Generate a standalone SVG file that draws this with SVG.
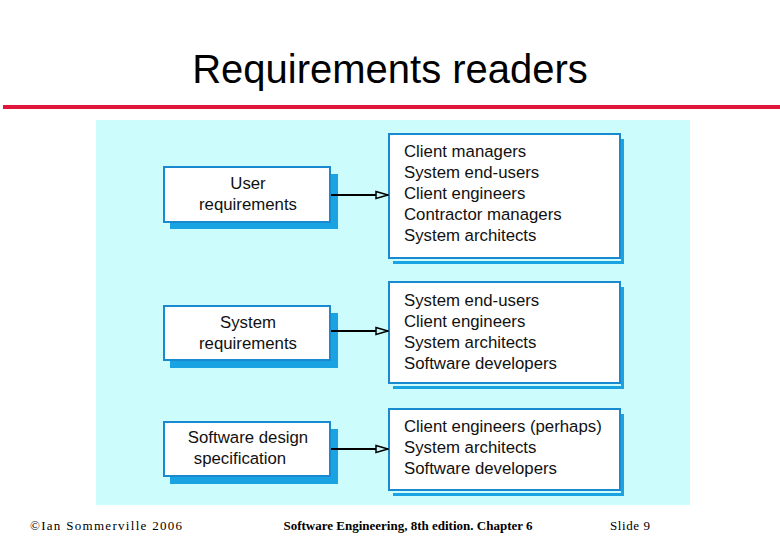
<svg xmlns="http://www.w3.org/2000/svg" width="780" height="540" viewBox="0 0 780 540">
<defs>
<style>
.title{font-family:"Liberation Sans",Arial,sans-serif;font-size:40px;fill:#000}
.t{font-family:"Liberation Sans",Arial,sans-serif;font-size:16.8px;fill:#111}
.box{fill:#fff;stroke:#1a8ad0;stroke-width:2}
.sh{fill:#1aa3e3}
.foot{font-family:"Liberation Serif","Times New Roman",serif;font-size:13px;fill:#000}
.conn{stroke:#000;stroke-width:2;fill:none}
</style>
<marker id="ah" markerWidth="14" markerHeight="10" refX="13" refY="5" orient="auto" markerUnits="userSpaceOnUse">
<path d="M1,1.5 L13,5 L1,8.5 Z" fill="#c8f8f8" stroke="#000" stroke-width="1.5"/>
</marker>
</defs>
<rect width="780" height="540" fill="#fff"/>
<text class="title" x="390" y="83" text-anchor="middle">Requirements readers</text>
<rect x="3" y="105" width="777" height="4" fill="#e0173a"/>
<rect x="96" y="120" width="594" height="385" fill="#ccfcfc"/>

<g id="user-req">
<rect class="sh" x="170" y="174" width="168" height="55"/>
<rect class="box" x="164" y="167" width="166" height="55"/>
<text class="t" x="248" y="189" text-anchor="middle">User</text>
<text class="t" x="248" y="210" text-anchor="middle">requirements</text>
</g>
<g id="sys-req">
<rect class="sh" x="170" y="313" width="168" height="55"/>
<rect class="box" x="164" y="306" width="166" height="54"/>
<text class="t" x="248" y="328" text-anchor="middle">System</text>
<text class="t" x="248" y="349" text-anchor="middle">requirements</text>
</g>
<g id="sw-design">
<rect class="sh" x="170" y="429" width="168" height="55"/>
<rect class="box" x="164" y="422" width="166" height="54"/>
<text class="t" x="248" y="443" text-anchor="middle">Software design</text>
<text class="t" x="240" y="464" text-anchor="middle">specification</text>
</g>

<g id="readers1">
<rect class="sh" x="393" y="139" width="231" height="125"/>
<rect x="391" y="137" width="230" height="124" fill="#ccfcfc"/>
<rect class="box" x="389" y="134" width="231" height="124"/>
<text class="t" x="404" y="157">Client managers</text>
<text class="t" x="404" y="178">System end-users</text>
<text class="t" x="404" y="199">Client engineers</text>
<text class="t" x="404" y="220">Contractor managers</text>
<text class="t" x="404" y="241">System architects</text>
</g>
<g id="readers2">
<rect class="sh" x="393" y="287" width="231" height="102"/>
<rect x="391" y="285" width="230" height="101" fill="#ccfcfc"/>
<rect class="box" x="389" y="282" width="231" height="101"/>
<text class="t" x="404" y="306">System end-users</text>
<text class="t" x="404" y="327">Client engineers</text>
<text class="t" x="404" y="348">System architects</text>
<text class="t" x="404" y="369">Software developers</text>
</g>
<g id="readers3">
<rect class="sh" x="393" y="414" width="231" height="82"/>
<rect x="391" y="412" width="230" height="81" fill="#ccfcfc"/>
<rect class="box" x="389" y="409" width="231" height="81"/>
<text class="t" x="404" y="432">Client engineers (perhaps)</text>
<text class="t" x="404" y="453">System architects</text>
<text class="t" x="404" y="474">Software developers</text>
</g>

<g id="connectors">
<line class="conn" x1="331" y1="195" x2="388" y2="195" marker-end="url(#ah)"/>
<line class="conn" x1="331" y1="331" x2="388" y2="331" marker-end="url(#ah)"/>
<line class="conn" x1="331" y1="449" x2="388" y2="449" marker-end="url(#ah)"/>
</g>

<text class="foot" x="30" y="530" textLength="152" lengthAdjust="spacing">©Ian Sommerville 2006</text>
<text class="foot" x="408" y="530" text-anchor="middle" font-weight="bold">Software Engineering, 8th edition. Chapter 6</text>
<text class="foot" x="610" y="530" textLength="40" lengthAdjust="spacing">Slide  9</text>
</svg>
